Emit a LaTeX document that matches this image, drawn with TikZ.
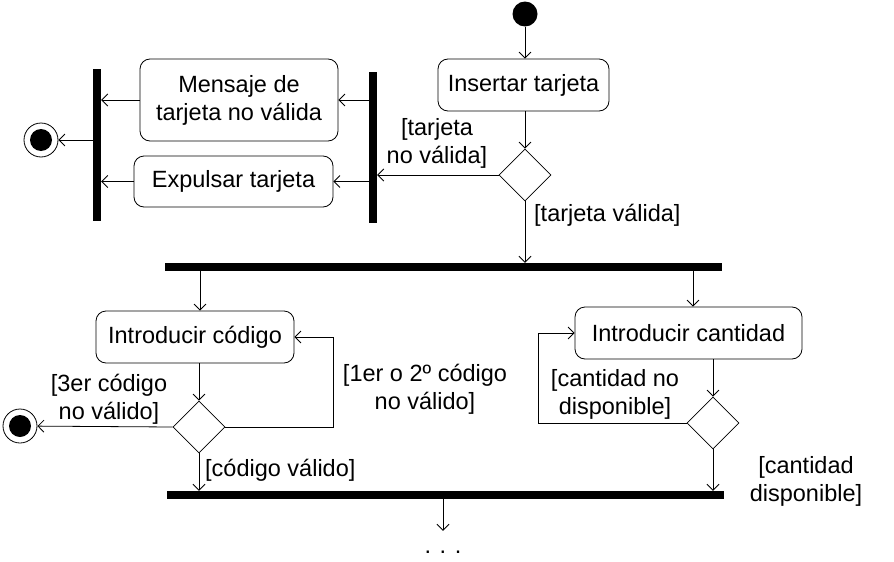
\documentclass[tikz,border=0pt]{standalone}
\usepackage{fontspec}
\setmainfont{Liberation Sans}
\usetikzlibrary{shapes.geometric, arrows.meta}

\begin{document}
\begin{tikzpicture}[x=1pt, y=-1pt,
    font=\fontsize{23.5}{28}\selectfont,
    activity/.style={rectangle, rounded corners=10pt, draw, line width=0.8pt, align=center, inner sep=0pt},
    decision/.style={diamond, draw, line width=0.8pt, minimum size=52pt, inner sep=0pt, aspect=1},
    bar/.style={rectangle, fill=black, inner sep=0pt},
    start/.style={circle, fill=black, minimum size=25pt, inner sep=0pt},
    stop/.style={circle, draw, line width=0.8pt, minimum size=34pt, inner sep=0pt,
        path picture={\fill[black] (path picture bounding box.center) circle (11pt);}},
    flow/.style={draw, line width=0.8pt, -{Straight Barb[length=6pt, width=12pt]}},
    guard/.style={align=center, inner sep=0pt}]
    \useasboundingbox (0,0) rectangle (894,562);

    % Draw nodes
    \node[start] (start) at (525,14) {};
    \node[activity, minimum width=171pt, minimum height=52pt] (ins) at (523.5,85) {Insertar tarjeta};
    \node[decision] (dec1) at (525,175) {};
    \node[bar, minimum width=8pt, minimum height=151pt] (barR) at (373,147.5) {};
    \node[activity, minimum width=198pt, minimum height=82pt] (msg) at (239,100) {Mensaje de\\tarjeta no válida};
    \node[activity, minimum width=199pt, minimum height=51pt] (exp) at (233.5,181.5) {Expulsar tarjeta};
    \node[bar, minimum width=8pt, minimum height=152pt] (barL) at (97,145) {};
    \node[stop] (end1) at (41,140) {};
    \node[bar, minimum width=557pt, minimum height=8pt] (fork) at (443.5,267) {};
    \node[activity, minimum width=198pt, minimum height=52pt] (cod) at (195,337) {Introducir código};
    \node[decision] (dec2) at (199,427) {};
    \node[stop] (end2) at (20,426) {};
    \node[activity, minimum width=227pt, minimum height=52pt] (cant) at (688.5,333) {Introducir cantidad};
    \node[decision] (dec3) at (713,423) {};
    \node[bar, minimum width=557pt, minimum height=8pt] (join) at (445.5,495) {};
    \node[anchor=base, inner sep=0pt, text height=22pt, text depth=0pt] (dots) at (443,553) {. . .};
    \coordinate (lp1) at (333,427);
    \coordinate (lp2) at (538,423);

    % Draw connections
    \draw[flow] (start) -- (ins.north -| start);
    \draw[flow] (ins.south -| dec1) -- (dec1.north);
    \draw[flow] (dec1.west) -- (dec1.west -| barR.east);
    \draw[flow] (dec1.south) -- (dec1.south |- fork.north);
    \draw[flow] (msg.east -| barR.west) -- (msg.east);
    \draw[flow] (exp.east -| barR.west) -- (exp.east);
    \draw[flow] (msg.west) -- (msg.west -| barL.east);
    \draw[flow] (exp.west) -- (exp.west -| barL.east);
    \draw[flow] (end1 -| barL.west) -- (end1);
    \draw[flow] ([xshift=5pt]cod.north |- fork.south) -- ([xshift=5pt]cod.north);
    \draw[flow] ([xshift=4.5pt]cant.north |- fork.south) -- ([xshift=4.5pt]cant.north);
    \draw[flow] (cod.south -| dec2) -- (dec2.north);
    \draw[flow] (dec2.west) -- (end2);
    \draw[flow] (dec2.east) -- (lp1) |- (cod.east);
    \draw[flow] (dec2.south) -- (dec2.south |- join.north);
    \draw[flow] (cant.south -| dec3) -- (dec3.north);
    \draw[flow] (dec3.west) -- (lp2) |- (cant.west);
    \draw[flow] (dec3.south) -- (dec3.south |- join.north);
    \draw[flow] (join.south -| dots) -- (dots.north);

    % Labels
    \node[guard] (g1) at (437,143) {[tarjeta\\no válida]};
    \node[guard, anchor=west] (g2) at (534,215) {[tarjeta válida]};
    \node[guard] (g3) at (109,399) {[3er código\\no válido]};
    \node[guard] (g4) at (425,389) {[1er o 2º código\\no válido]};
    \node[guard, anchor=west] (g5) at (205,470) {[código válido]};
    \node[guard] (g6) at (615,394) {[cantidad no\\disponible]};
    \node[guard] (g7) at (806,481) {[cantidad\\disponible]};
\end{tikzpicture}
\end{document}
